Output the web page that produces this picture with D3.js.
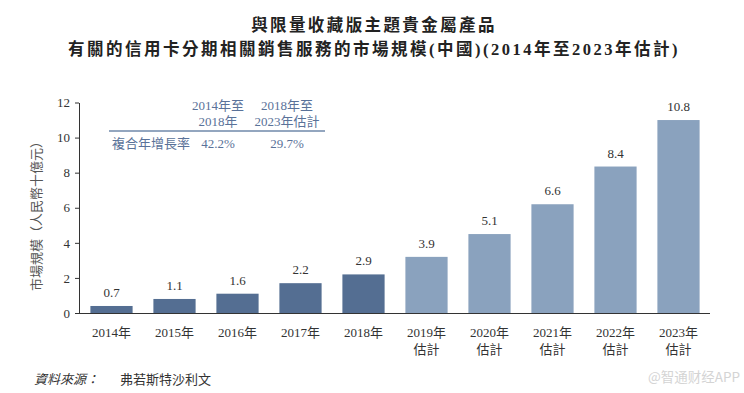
<!DOCTYPE html>
<html><head><meta charset="utf-8">
<script src="https://cdn.jsdelivr.net/npm/d3@7"></script>
<style>
html,body{margin:0;padding:0;background:#fff;}
svg{display:block;}
</style></head>
<body>
<script>
// ---- data ----
const years = ["2014年","2015年","2016年","2017年","2018年","2019年","2020年","2021年","2022年","2023年"];
const estimated = [false,false,false,false,false,true,true,true,true,true];
const barValues = [0.4,0.8,1.1,1.7,2.2,3.2,4.5,6.2,8.35,11.0];
const labelValues = ["0.7","1.1","1.6","2.2","2.9","3.9","5.1","6.6","8.4","10.8"];
const yTicks = [0,2,4,6,8,10,12];
const cagrHeaders = [["2014年至","2018年"],["2018年至","2023年估計"]];
const cagrLabel = "複合年增長率";
const cagrValues = ["42.2%","29.7%"];
const titleLines = ["與限量收藏版主題貴金屬產品","有關的信用卡分期相關銷售服務的市場規模(中國)(2014年至2023年估計)"];
const yAxisTitle = "市場規模（人民幣十億元）";
const sourceLabel = "資料來源：";
const sourceText = "弗若斯特沙利文";
const watermark = "@智通财经APP";

const W = 744, H = 393;
const FONT = "'Liberation Serif','Noto Sans CJK TC',serif";
const svg = d3.select("body").append("svg").attr("width", W).attr("height", H);

const x = d3.scaleBand().domain(years).range([80, 710]).paddingInner(0.33).paddingOuter(0.165);
const y = d3.scaleLinear().domain([0, 12]).range([313, 102.5]);

// title
svg.append("g").selectAll("text").data(titleLines).join("text")
  .attr("x", 374).attr("y", (d,i) => 31 + i*24)
  .attr("text-anchor", "middle")
  .attr("font-family", FONT).attr("font-weight", "bold")
  .attr("font-size", 16.5).attr("letter-spacing", (d,i) => i === 0 ? 2.4 : 2.5)
  .attr("fill", "#222").text(d => d);

// bars
svg.append("g").selectAll("rect").data(years).join("rect")
  .attr("x", d => x(d)).attr("width", x.bandwidth())
  .attr("y", (d,i) => y(barValues[i]))
  .attr("height", (d,i) => y(0) - y(barValues[i]))
  .attr("fill", (d,i) => estimated[i] ? "#8aa2be" : "#546e92");

// value labels
svg.append("g").selectAll("text").data(years).join("text")
  .attr("x", d => x(d) + x.bandwidth()/2)
  .attr("y", (d,i) => y(barValues[i]) - 9)
  .attr("text-anchor", "middle")
  .attr("font-family", FONT).attr("font-size", 13).attr("fill", "#333")
  .text((d,i) => labelValues[i]);

// y axis
const yAxis = svg.append("g").attr("transform", "translate(79,0)")
  .call(d3.axisLeft(y).tickValues(yTicks).tickSize(4).tickPadding(5).tickSizeOuter(0));
yAxis.select(".domain").attr("stroke", "#333");
yAxis.selectAll(".tick line").attr("stroke", "#333");
yAxis.selectAll(".tick text").attr("font-family", FONT).attr("font-size", 13).attr("fill", "#333");

// x axis
const xAxis = svg.append("g").attr("transform", `translate(0,${y(0)})`)
  .call(d3.axisBottom(x).tickSize(0).tickSizeOuter(0).tickFormat(""));
xAxis.select(".domain").attr("stroke", "#333").attr("d", "M79,0.5H710");
xAxis.selectAll(".tick").each(function(d, i) {
  const t = d3.select(this).append("text")
    .attr("text-anchor", "middle").attr("font-family", FONT)
    .attr("font-size", 13).attr("fill", "#333");
  t.append("tspan").attr("x", 0).attr("y", 24).text(d);
  if (estimated[i]) t.append("tspan").attr("x", 0).attr("y", 41).text("估計");
});

// y axis title
svg.append("text")
  .attr("transform", "translate(41,213) rotate(-90)")
  .attr("text-anchor", "middle")
  .attr("font-family", FONT).attr("font-size", 13).attr("fill", "#555")
  .text(yAxisTitle);

// CAGR table
const cagr = svg.append("g").attr("font-family", FONT).attr("font-size", 13).attr("fill", "#5a7299");
const colX = [218, 287];
cagrHeaders.forEach((h, i) => {
  h.forEach((line, j) => {
    cagr.append("text").attr("x", colX[i]).attr("y", 110 + j*16)
      .attr("text-anchor", "middle").text(line);
  });
  cagr.append("text").attr("x", colX[i]).attr("y", 148)
    .attr("text-anchor", "middle").text(cagrValues[i]);
});
cagr.append("text").attr("x", 112).attr("y", 148).text(cagrLabel);
svg.append("line").attr("x1", 109).attr("x2", 325).attr("y1", 131).attr("y2", 131)
  .attr("stroke", "#6f88aa").attr("stroke-width", 1.5);

// source
svg.append("text").attr("x", 34).attr("y", 384)
  .attr("font-family", FONT).attr("font-size", 13).attr("font-style", "italic")
  .attr("fill", "#333").text(sourceLabel);
svg.append("text").attr("x", 120).attr("y", 384)
  .attr("font-family", FONT).attr("font-size", 13)
  .attr("fill", "#333").text(sourceText);

// watermark
svg.append("text").attr("x", 740).attr("y", 382).attr("text-anchor", "end")
  .attr("font-family", "'Noto Sans CJK SC',sans-serif").attr("font-size", 13.5)
  .attr("fill", "#d4d4d4").text(watermark);
</script>
</body></html>
